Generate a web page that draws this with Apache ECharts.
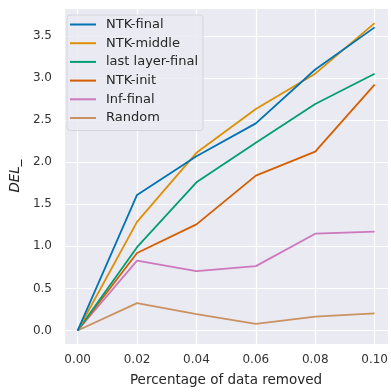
<!DOCTYPE html>
<html>
<head>
<meta charset="utf-8">
<script src="https://cdn.jsdelivr.net/npm/echarts@6/dist/echarts.min.js"></script>
<style>
  html, body { margin: 0; padding: 0; background: #fff; }
  #chart { width: 391px; height: 392px; }
</style>
</head>
<body>
<div id="chart"></div>
<script>
// data
var xValues = [0.00, 0.02, 0.04, 0.06, 0.08, 0.10];
var seriesNames = ['NTK-final', 'NTK-middle', 'last layer-final', 'NTK-init', 'Inf-final', 'Random'];
var ntkFinal = [0, 1.61, 2.07, 2.46, 3.10, 3.60];
var ntkMiddle = [0, 1.29, 2.11, 2.63, 3.05, 3.65];
var lastLayerFinal = [0, 0.99, 1.76, 2.23, 2.69, 3.05];
var ntkInit = [0, 0.92, 1.26, 1.84, 2.125, 2.92];
var infFinal = [0, 0.83, 0.705, 0.765, 1.15, 1.175];
var randomSel = [0, 0.325, 0.195, 0.078, 0.165, 0.204];
var colors = ['#0173B2', '#DE8F05', '#029E73', '#D55E00', '#CC78BC', '#CA9161'];

var allValues = [ntkFinal, ntkMiddle, lastLayerFinal, ntkInit, infFinal, randomSel];

function pairs(ys) {
    return xValues.map(function (x, i) { return [x, ys[i]]; });
}

function onStep(v, step) {
    var k = v / step;
    return Math.abs(k - Math.round(k)) < 1e-6;
}

var myChart = echarts.init(document.getElementById('chart'));
var font = 'DejaVu Sans';

var series = seriesNames.map(function (name, i) {
    return {
        name: name,
        type: 'line',
        data: pairs(allValues[i]),
        symbol: 'none',
        color: colors[i],
        lineStyle: { width: 1.8, color: colors[i] },
        z: 10 - i
    };
});

var option = {
    animation: false,
    textStyle: { fontFamily: font },
    grid: {
        left: 60, right: 1, top: 8, bottom: 45,
        show: true,
        backgroundColor: '#EAEAF2',
        borderWidth: 0
    },
    legend: {
        orient: 'vertical',
        left: 67, top: 15,
        data: seriesNames,
        icon: 'rect',
        itemWidth: 26,
        itemHeight: 2,
        itemGap: 3.7,
        padding: [2, 5, 5, 3],
        backgroundColor: 'rgba(234,234,242,0.85)',
        borderColor: '#D6D6DE',
        borderWidth: 1,
        borderRadius: 3,
        textStyle: { fontFamily: font, fontSize: 13, color: '#262626', lineHeight: 15, padding: [0, 0, 0, 5] }
    },
    xAxis: {
        type: 'value',
        min: -0.0046, max: 0.1045,
        minInterval: 0.02, maxInterval: 0.02,
        name: 'Percentage of data removed',
        nameLocation: 'middle',
        nameGap: 29,
        nameTextStyle: { fontFamily: font, fontSize: 13.5, color: '#262626' },
        axisLine: { show: false },
        axisTick: { show: false },
        axisLabel: {
            margin: 10,
            fontFamily: font, fontSize: 12, color: '#333',
            formatter: function (v) { return onStep(v, 0.02) ? v.toFixed(2) : ''; }
        },
        splitLine: { show: true, lineStyle: { color: '#fff', width: 1.2 } }
    },
    yAxis: {
        type: 'value',
        min: -0.16, max: 3.83,
        minInterval: 0.5, maxInterval: 0.5,
        name: 'DEL_',
        nameLocation: 'middle',
        nameGap: 36,
        nameTextStyle: { fontFamily: font, fontSize: 13.5, color: '#262626', fontStyle: 'italic' },
        axisLine: { show: false },
        axisTick: { show: false },
        axisLabel: {
            margin: 12,
            fontFamily: font, fontSize: 12, color: '#333',
            formatter: function (v) { return onStep(v, 0.5) ? v.toFixed(1) : ''; }
        },
        splitLine: { show: true, lineStyle: { color: '#fff', width: 1.2 } }
    },
    series: series
};
myChart.setOption(option);
</script>
</body>
</html>
